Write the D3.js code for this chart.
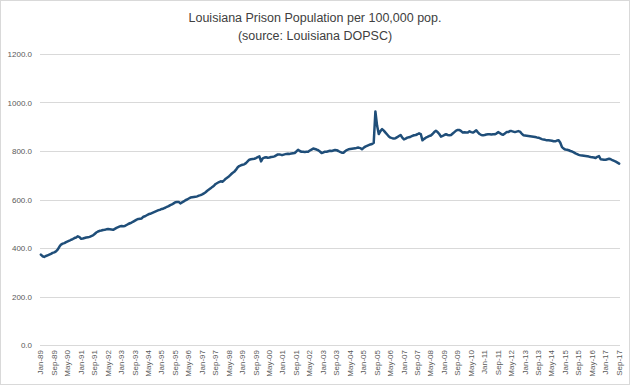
<!DOCTYPE html>
<html>
<head>
<meta charset="utf-8">
<script src="https://cdn.jsdelivr.net/npm/d3@7"></script>
<style>
  html, body { margin: 0; padding: 0; background: #fff; }
  svg { display: block; }
</style>
</head>
<body>
<svg id="chart" width="630" height="385"></svg>
<script>
// ---------- DATA ----------
const titleLines = ["Louisiana Prison Population per 100,000 pop.", "(source: Louisiana DOPSC)"];
const monthNames = ["Jan","Feb","Mar","Apr","May","Jun","Jul","Aug","Sep","Oct","Nov","Dec"];
const startYear = 1989;
const monthCount = 345; // Jan-89 .. Sep-17

// Monthly prison population per 100,000, one row per year
const rate1989 = [373, 366, 363, 367, 370, 373, 376, 380, 382, 386, 393, 405];
const rate1990 = [414, 418, 420, 424, 427, 430, 434, 437, 441, 443, 448, 445];
const rate1991 = [438, 439, 441, 443, 444, 446, 449, 452, 458, 464, 468, 471];
const rate1992 = [472, 474, 475, 477, 478, 477, 476, 475, 479, 483, 486, 489];
const rate1993 = [491, 490, 491, 495, 499, 502, 505, 509, 513, 517, 520, 521];
const rate1994 = [522, 529, 531, 535, 539, 541, 544, 547, 550, 553, 556, 558];
const rate1995 = [561, 563, 566, 570, 573, 577, 580, 584, 589, 590, 590, 584];
const rate1996 = [588, 592, 597, 600, 604, 608, 609, 610, 611, 613, 616, 618];
const rate1997 = [621, 625, 630, 636, 641, 646, 652, 657, 664, 668, 672, 675];
const rate1998 = [673, 679, 686, 691, 696, 703, 709, 714, 722, 732, 738, 741];
const rate1999 = [743, 745, 750, 757, 764, 766, 767, 768, 771, 775, 778, 757];
const rate2000 = [770, 773, 774, 772, 773, 775, 776, 778, 782, 786, 786, 784];
const rate2001 = [784, 786, 788, 789, 788, 790, 791, 792, 798, 805, 800, 797];
const rate2002 = [797, 796, 797, 797, 802, 806, 810, 808, 806, 803, 798, 792];
const rate2003 = [794, 797, 797, 799, 801, 800, 802, 804, 803, 800, 796, 793];
const rate2004 = [793, 799, 804, 807, 808, 809, 810, 811, 813, 814, 812, 807];
const rate2005 = [813, 818, 821, 824, 827, 829, 833, 963, 905, 870, 882, 890];
const rate2006 = [884, 876, 868, 860, 855, 853, 852, 853, 857, 862, 866, 855];
const rate2007 = [848, 851, 855, 857, 859, 862, 865, 866, 869, 873, 870, 844];
const rate2008 = [850, 855, 858, 862, 864, 870, 878, 883, 878, 870, 859, 862];
const rate2009 = [866, 869, 866, 865, 866, 872, 878, 884, 887, 887, 882, 876];
const rate2010 = [877, 876, 876, 881, 878, 876, 880, 885, 877, 870, 866, 865];
const rate2011 = [866, 868, 869, 869, 868, 869, 869, 872, 878, 874, 869, 867];
const rate2012 = [872, 878, 878, 882, 882, 880, 878, 880, 882, 880, 872, 865];
const rate2013 = [864, 863, 862, 861, 860, 859, 858, 856, 855, 852, 849, 847];
const rate2014 = [846, 844, 844, 843, 842, 840, 840, 843, 844, 834, 816, 810];
const rate2015 = [806, 805, 803, 800, 798, 794, 790, 787, 784, 782, 781, 780];
const rate2016 = [779, 778, 777, 775, 774, 773, 771, 776, 779, 766, 765, 764];
const rate2017 = [764, 766, 768, 766, 762, 759, 756, 752, 748];

const yTicks = [0, 200, 400, 600, 800, 1000, 1200];
const xTickLabels = ["Jan-89","Sep-89","May-90","Jan-91","Sep-91","May-92","Jan-93","Sep-93","May-94",
  "Jan-95","Sep-95","May-96","Jan-97","Sep-97","May-98","Jan-99","Sep-99","May-00","Jan-01","Sep-01",
  "May-02","Jan-03","Sep-03","May-04","Jan-05","Sep-05","May-06","Jan-07","Sep-07","May-08","Jan-09",
  "Sep-09","May-10","Jan-11","Sep-11","May-12","Jan-13","Sep-13","May-14","Jan-15","Sep-15","May-16",
  "Jan-17","Sep-17"];

// ---------- BUILD ----------
const values = [].concat(rate1989, rate1990, rate1991, rate1992, rate1993, rate1994, rate1995, rate1996,
  rate1997, rate1998, rate1999, rate2000, rate2001, rate2002, rate2003, rate2004, rate2005, rate2006,
  rate2007, rate2008, rate2009, rate2010, rate2011, rate2012, rate2013, rate2014, rate2015, rate2016, rate2017);

const categories = [];
for (let i = 0; i < monthCount; i++) {
  const y = startYear + Math.floor(i / 12);
  categories.push(monthNames[i % 12] + "-" + String(y % 100).padStart(2, "0"));
}
const data = categories.map((c, i) => ({ c, v: values[i] }));

const svg = d3.select("#chart");
const W = 630, H = 385;
const plot = { left: 40, right: 620, top: 54, bottom: 345 };

svg.append("rect").attr("x", 0.5).attr("y", 0.5).attr("width", W - 1).attr("height", H - 1)
  .attr("fill", "#fff").attr("stroke", "#D9D9D9");

const x = d3.scaleBand().domain(categories).range([plot.left, plot.right]).padding(0);
const y = d3.scaleLinear().domain([0, 1200]).range([plot.bottom, plot.top]);

// gridlines
svg.append("g").selectAll("line").data(yTicks).join("line")
  .attr("x1", plot.left).attr("x2", plot.right)
  .attr("y1", d => Math.round(y(d)) + 0.5).attr("y2", d => Math.round(y(d)) + 0.5)
  .attr("stroke", "#D9D9D9").attr("stroke-width", 1);

// y axis labels
const yAxis = d3.axisLeft(y).tickValues(yTicks).tickSize(0).tickPadding(8).tickFormat(d3.format(".1f"));
const gy = svg.append("g").attr("transform", `translate(${plot.left},0)`).call(yAxis);
gy.select(".domain").remove();
gy.selectAll("text").attr("fill", "#595959").style("font-family", "'Liberation Sans', Arial, sans-serif").style("font-size", "8px");

// x axis labels
const xAxis = d3.axisBottom(x).tickValues(xTickLabels).tickSize(0).tickPadding(0);
const gx = svg.append("g").attr("transform", `translate(0,${plot.bottom})`).call(xAxis);
gx.select(".domain").remove();
gx.selectAll("text")
  .attr("fill", "#595959")
  .style("font-family", "'Liberation Sans', Arial, sans-serif")
  .style("font-size", "8px")
  .attr("text-anchor", "end")
  .attr("transform", "rotate(-90)")
  .attr("x", -5).attr("y", 0).attr("dy", "0.32em");

// line
const line = d3.line()
  .x(d => x(d.c) + x.bandwidth() / 2)
  .y(d => y(d.v));
svg.append("path").datum(data)
  .attr("d", line)
  .attr("fill", "none")
  .attr("stroke", "#1F4E79")
  .attr("stroke-width", 2.5)
  .attr("stroke-linejoin", "round")
  .attr("stroke-linecap", "round");

// title
const t = svg.append("text").attr("x", 315).attr("y", 22).attr("text-anchor", "middle")
  .attr("fill", "#404040").style("font-family", "'Liberation Sans', Arial, sans-serif").style("font-size", "12.5px");
t.selectAll("tspan").data(titleLines).join("tspan")
  .attr("x", 315).attr("dy", (d, i) => i === 0 ? 0 : 18).text(d => d);
</script>
</body>
</html>
